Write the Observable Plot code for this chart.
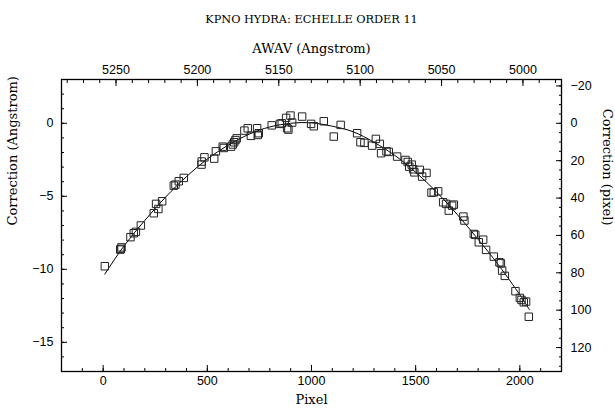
<!DOCTYPE html>
<html><head><meta charset="utf-8">
<script src="https://cdn.jsdelivr.net/npm/d3@7"></script>
<script src="https://cdn.jsdelivr.net/npm/@observablehq/plot@0.6"></script>
<style>body{margin:0;background:#fff}</style>
</head><body><div id="chart"></div>
<script>
// Measured line positions
const pixel = [8,82,85,88,131,147,157,181,243,254,265,283,339,347,363,387,472,473,486,533,541,574,579,614,622,629,635,641,678,694,709,739,742,747,809,848,857,878,899,883,889,907,955,998,1011,1059,1107,1140,1219,1235,1254,1291,1309,1328,1334,1360,1371,1411,1451,1462,1469,1481,1488,1494,1520,1531,1552,1576,1587,1608,1632,1646,1659,1675,1683,1729,1734,1779,1786,1803,1824,1838,1875,1902,1909,1915,1928,1979,2000,2008,2019,2030,2043];
const correction = [-9.79,-8.65,-8.6,-8.5,-7.8,-7.53,-7.44,-7.0,-6.16,-5.52,-5.87,-5.34,-4.27,-4.2,-3.97,-3.74,-2.83,-2.62,-2.33,-2.42,-1.92,-1.6,-1.69,-1.6,-1.45,-1.3,-1.15,-1.03,-0.5,-0.34,-0.86,-0.34,-0.8,-0.68,-0.14,-0.04,0.0,0.37,0.53,-0.34,-0.43,0.05,0.46,-0.04,-0.2,0.14,-0.91,-0.11,-0.68,-1.3,-1.34,-1.53,-1.07,-1.41,-2.05,-1.92,-1.96,-2.28,-2.51,-2.65,-2.97,-2.83,-3.15,-3.36,-3.19,-3.65,-3.4,-4.75,-4.73,-4.66,-5.41,-5.52,-5.98,-5.64,-5.57,-6.39,-6.66,-7.58,-7.64,-8.15,-7.97,-8.67,-9.13,-9.52,-9.59,-10.09,-10.45,-11.5,-11.96,-12.1,-12.26,-12.21,-13.25];

// Fitted dispersion curve
const fitPixel = [8,100,200,300,400,500,600,700,800,900,1000,1100,1200,1300,1400,1500,1600,1700,1800,1900,2000,2045];
const fitCorrection = [-10.33,-8.4,-6.65,-5.05,-3.65,-2.45,-1.5,-0.75,-0.25,0.0,0.03,-0.2,-0.58,-1.3,-2.2,-3.35,-4.7,-6.25,-7.95,-9.75,-11.75,-12.75];

// Tick labels
const pixelTicks = [0,500,1000,1500,2000];
const awavTicks = [5250,5200,5150,5100,5050,5000];
const angstromTicks = [0,-5,-10,-15];
const pixCorrTicks = [-20,0,20,40,60,80,100,120];

// Dispersion solution for the secondary axes
const awavAtPixel0 = 5257.9;   // Angstrom at pixel 0
const dispersion = 0.128;      // Angstrom per pixel

const xDomain = [-200, 2200];
const yDomain = [-17, 3];

const toPix = w => (awavAtPixel0 - w) / dispersion;
const corrToAng = c => -c * dispersion;

const minorX = d3.range(-200, 2201, 100);
const minorAwav = d3.range(4960, 5290, 10).map(toPix).filter(p => p >= xDomain[0] && p <= xDomain[1]);
const minorY = d3.range(-17, 3.01, 1);
const minorPixCorr = d3.range(-25, 140, 5).map(corrToAng).filter(a => a >= yDomain[0] && a <= yDomain[1]);

const tickFont = {fontFamily: "Liberation Sans, Arial, sans-serif", fontSize: 12.5};
const serif = "DejaVu Serif";

const plot = Plot.plot({
  width: 615, height: 412,
  marginLeft: 61, marginRight: 54, marginTop: 79, marginBottom: 41,
  x: {domain: xDomain},
  y: {domain: yDomain},
  style: {fontFamily: "Liberation Sans, Arial, sans-serif", fontSize: "12.5px", color: "black", background: "white"},
  marks: [
    Plot.frame({stroke: "black", strokeWidth: 1.3}),
    // bottom axis
    Plot.axisX(minorX, {anchor: "bottom", tickSize: -3, tickFormat: () => "", label: null}),
    Plot.axisX(pixelTicks, {anchor: "bottom", tickSize: -6, tickPadding: 11, tickFormat: d => String(d), label: null, ...tickFont}),
    // top axis (wavelength)
    Plot.axisX(minorAwav, {anchor: "top", tickSize: -3, tickFormat: () => "", label: null}),
    Plot.axisX(awavTicks.map(toPix), {anchor: "top", tickSize: -6, tickPadding: 12, tickFormat: p => String(Math.round(awavAtPixel0 - p * dispersion)), label: null, ...tickFont}),
    // left axis
    Plot.axisY(minorY, {anchor: "left", tickSize: -3, tickFormat: () => "", label: null}),
    Plot.axisY(angstromTicks, {anchor: "left", tickSize: -6, tickPadding: 14, tickFormat: d => d === 0 ? "0" : "\u2212" + Math.abs(d), label: null, ...tickFont}),
    // right axis (pixel correction)
    Plot.axisY(minorPixCorr, {anchor: "right", tickSize: -3, tickFormat: () => "", label: null}),
    Plot.axisY(pixCorrTicks.map(corrToAng), {anchor: "right", tickSize: -6, tickPadding: 15, tickFormat: a => { const c = Math.round(-a / dispersion); return c < 0 ? "\u2212" + Math.abs(c) : String(c); }, label: null, ...tickFont}),
    // fit line and data
    Plot.line(d3.range(fitPixel.length), {x: i => fitPixel[i], y: i => fitCorrection[i], curve: "natural", stroke: "black", strokeWidth: 1}),
    Plot.dot(d3.range(pixel.length), {x: i => pixel[i], y: i => correction[i], symbol: "square", r: 4.2, stroke: "#222", strokeWidth: 1, fill: "none"}),
    // titles
    Plot.text(["KPNO HYDRA: ECHELLE ORDER 11"], {text: d => d, frameAnchor: "top", dy: -65, fontFamily: serif, fontSize: 11.3}),
    Plot.text(["AWAV (Angstrom)"], {text: d => d, frameAnchor: "top", dy: -36, fontFamily: serif, fontSize: 13}),
    Plot.text(["Pixel"], {text: d => d, frameAnchor: "bottom", dy: 32, fontFamily: serif, fontSize: 13}),
    Plot.text(["Correction (Angstrom)"], {text: d => d, frameAnchor: "left", dx: -49, rotate: -90, fontFamily: serif, fontSize: 13}),
    Plot.text(["Correction (pixel)"], {text: d => d, frameAnchor: "right", dx: 46, rotate: 90, fontFamily: serif, fontSize: 13})
  ]
});
document.getElementById("chart").appendChild(plot);
</script>
</body></html>
